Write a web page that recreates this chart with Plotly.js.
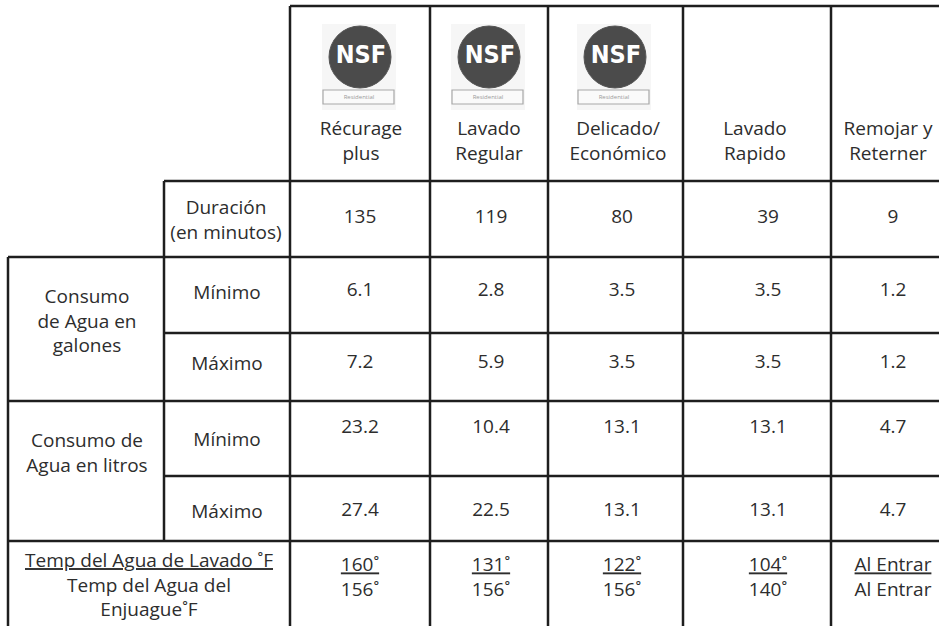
<!DOCTYPE html>
<html><head><meta charset="utf-8">
<script src="https://cdn.plot.ly/plotly-3.0.1.min.js"></script>
<style>html,body{margin:0;padding:0;background:#fff}</style>
</head><body><div id="chart" style="width:939px;height:626px"></div>
<script>
// ---- data ----
const programs = ["Récurage<br>plus","Lavado<br>Regular","Delicado/<br>Económico","Lavado<br>Rapido","Remojar y<br>Reterner"];
const nsfCertified = [true,true,true,false,false];
const durationMin = [135,119,80,39,9];
const gallonsMin = [6.1,2.8,3.5,3.5,1.2];
const gallonsMax = [7.2,5.9,3.5,3.5,1.2];
const litersMin = [23.2,10.4,13.1,13.1,4.7];
const litersMax = [27.4,22.5,13.1,13.1,4.7];
const washTempF = ["160˚","131˚","122˚","104˚","Al Entrar"];
const rinseTempF = ["156˚","156˚","156˚","140˚","Al Entrar"];
const durationLabel = "Duración<br>(en minutos)";
const gallonsLabel = "Consumo<br>de Agua en<br>galones";
const litersLabel = "Consumo de<br>Agua en litros";
const tempLabel = "<u>Temp del Agua de Lavado ˚F</u><br>Temp del Agua del<br>Enjuague˚F";
const rangeLabels = ["Mínimo","Máximo"];

// ---- layout geometry (pixels of the 939x626 canvas) ----
const W = 939, H = 626;
const xOuter = 8, xSub = 164, xData = 290;
const colEdges = [290,430,548,683,831,W];
const yTop = 6, yHead = 181, yDur = 257, yGalMid = 333, yGal = 401, yLitMid = 476, yLit = 541;
const headerX = [361,489,618,755,888], headerY = 143;
const valueX = [360,491,622,768,893];
const logoX = [360,489,615];
const rowY = {dur:218, gmin:291, gmax:363, lmin:428, lmax:511, temp:579};
const ink = "#2d2d2d", lineCol = "#1e1e1e";
const FONT = "Open Sans, Noto Sans, sans-serif";

const traces = [];
function textTrace(xs, ys, txt, size, color, family, weight) {
  traces.push({type:"scatter", mode:"text", x:xs, y:ys, text:txt,
    textposition:"middle center", cliponaxis:false, hoverinfo:"skip",
    textfont:{family:family||FONT, size:size||19, color:color||ink, weight:weight||"normal"}});
}

// header
textTrace(headerX, programs.map(()=>headerY), programs);
// values
const fmt1 = v => v.toFixed(1);
textTrace(valueX, durationMin.map(()=>rowY.dur), durationMin.map(String));
textTrace(valueX, gallonsMin.map(()=>rowY.gmin), gallonsMin.map(fmt1));
textTrace(valueX, gallonsMax.map(()=>rowY.gmax), gallonsMax.map(fmt1));
textTrace(valueX, litersMin.map(()=>rowY.lmin), litersMin.map(fmt1));
textTrace(valueX, litersMax.map(()=>rowY.lmax), litersMax.map(fmt1));
textTrace(valueX, washTempF.map(()=>rowY.temp), washTempF.map((w,i)=>"<u>"+w+"</u><br>"+rinseTempF[i]));
// row labels
textTrace([226], [222], [durationLabel]);
textTrace([87], [323], [gallonsLabel]);
textTrace([227,227], [294,365], rangeLabels);
textTrace([87], [455], [litersLabel]);
textTrace([227,227], [441,513], rangeLabels);
textTrace([149], [587], [tempLabel]);

// NSF logos (shapes below the text traces)
const shapes = [];
const lx = [], ly = [], lt = [], rx = [], ry = [], rt = [];
nsfCertified.forEach((ok,i)=>{
  if(!ok) return;
  const cx = logoX[i];
  shapes.push({type:"rect", xref:"x", yref:"y", x0:cx-38, x1:cx+36, y0:24, y1:110, fillcolor:"#f6f6f6", line:{width:0}, layer:"below"});
  shapes.push({type:"circle", xref:"x", yref:"y", x0:cx-31, x1:cx+31, y0:26, y1:88, fillcolor:"#4b4b4b", line:{color:"#555", width:1}, layer:"below"});
  shapes.push({type:"rect", xref:"x", yref:"y", x0:cx-37, x1:cx+34, y0:90, y1:104, fillcolor:"#fafafa", line:{color:"#a8a8a8", width:1.2}, layer:"below"});
  lx.push(cx+1); ly.push(57); lt.push("NSF");
  rx.push(cx-1); ry.push(97); rt.push("Residential");
});
textTrace(lx, ly, lt, 25, "#ffffff", "DejaVu Sans Condensed, DejaVu Sans, sans-serif", "bold");
textTrace(rx, ry, rt, 6, "#9a9a9a", FONT);

// grid lines
function hl(y, x0, x1){ shapes.push({type:"line", xref:"x", yref:"y", x0:x0, x1:x1, y0:y, y1:y, line:{color:lineCol, width:2.5}}); }
function vl(x, y0, y1){ shapes.push({type:"line", xref:"x", yref:"y", x0:x, x1:x, y0:y0, y1:y1, line:{color:lineCol, width:2.5}}); }
hl(yTop, xData, W);
hl(yHead, xSub, W);
hl(yDur, xOuter, W);
hl(yGalMid, xSub, W);
hl(yGal, xOuter, W);
hl(yLitMid, xSub, W);
hl(yLit, xOuter, W);
vl(xOuter, yDur, H);
vl(xSub, yHead, yLit);
colEdges.slice(0,-1).forEach(x=>vl(x, yTop, H));

const layout = {
  width:W, height:H, margin:{l:0,r:0,t:0,b:0,pad:0},
  paper_bgcolor:"#ffffff", plot_bgcolor:"#ffffff", showlegend:false,
  xaxis:{range:[0,W], visible:false, fixedrange:true},
  yaxis:{range:[H,0], visible:false, fixedrange:true},
  shapes:shapes
};
Plotly.newPlot("chart", traces, layout, {staticPlot:true, displayModeBar:false});
</script></body></html>
